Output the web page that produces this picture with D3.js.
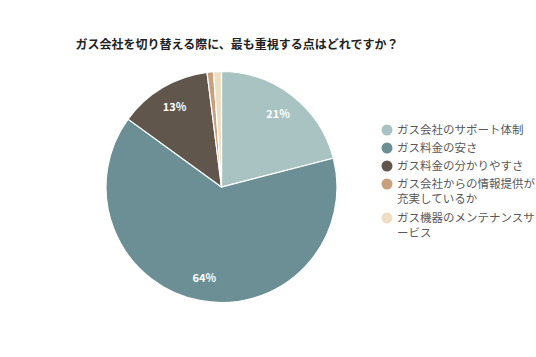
<!DOCTYPE html>
<html><head><meta charset="utf-8">
<script src="https://cdn.jsdelivr.net/npm/d3@7"></script>
<style>body{margin:0;background:#fff;}</style>
</head><body>
<script>
const title = "ガス会社を切り替える際に、最も重視する点はどれですか？";
const categories = ["ガス会社のサポート体制","ガス料金の安さ","ガス料金の分かりやすさ","ガス会社からの情報提供が充実しているか","ガス機器のメンテナンスサービス"];
const legendLines = [["ガス会社のサポート体制"],["ガス料金の安さ"],["ガス料金の分かりやすさ"],["ガス会社からの情報提供が","充実しているか"],["ガス機器のメンテナンスサ","ービス"]];
const values = [21, 64, 13, 0.9, 1.1];
const labels = ["21%","64%","13%","",""];
const colors = ["#a9c2c2","#6b8f94","#61564c","#c9a07c","#eedfc4"];

const W=536,H=357;
const svg=d3.select("body").append("svg").attr("width",W).attr("height",H);
const font="'Noto Sans CJK JP','Noto Sans',sans-serif";
svg.append("text").attr("x",237).attr("y",49).attr("text-anchor","middle")
  .attr("font-family",font).attr("font-weight","bold").attr("font-size",12).attr("fill","#222").text(title);

const cx=221.5,cy=187,r=115.5;
const pie=d3.pie().sort(null).value(d=>d);
const arcs=pie(values);
const arc=d3.arc().innerRadius(0).outerRadius(r);
const g=svg.append("g").attr("transform",`translate(${cx},${cy})`);
g.selectAll("path").data(arcs).join("path").attr("d",arc)
  .attr("fill",(d,i)=>colors[i]).attr("stroke","#fff").attr("stroke-width",1.2);
const labArc=d3.arc().innerRadius(r*0.8).outerRadius(r*0.8);
g.selectAll("text").data(arcs).join("text")
  .attr("transform",d=>`translate(${labArc.centroid(d)})`)
  .attr("text-anchor","middle").attr("dy","0.35em")
  .attr("font-family",font).attr("font-weight","bold").attr("font-size",11).attr("fill","#fff")
  .text((d,i)=>labels[i]);

const ly=[134,152,170,188,222];
const lg=svg.append("g");
legendLines.forEach((lines,i)=>{
  lg.append("circle").attr("cx",387).attr("cy",ly[i]-4).attr("r",5.5).attr("fill",colors[i]);
  lines.forEach((t,j)=>{
    lg.append("text").attr("x",397).attr("y",ly[i]+j*15).attr("font-family",font)
      .attr("font-size",11.5).attr("fill","#595959").text(t);
  });
});
</script>
</body></html>
